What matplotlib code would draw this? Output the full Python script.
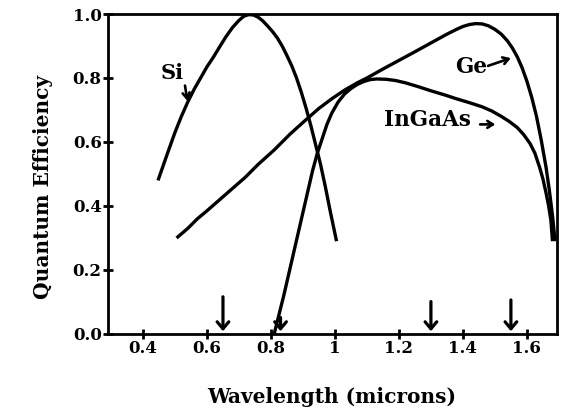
import numpy as np
import matplotlib
matplotlib.use("Agg")
import matplotlib.pyplot as plt

# data
si_x = [0.447, 0.475, 0.50, 0.52, 0.54, 0.56, 0.58, 0.60, 0.62, 0.64, 0.66, 0.68, 0.70, 0.715, 0.73, 0.745, 0.76,
        0.775, 0.79, 0.805, 0.82, 0.835, 0.85, 0.865, 0.88, 0.895, 0.91, 0.925, 0.94, 0.955, 0.97, 0.985, 1.005]
si_y = [0.48, 0.56, 0.63, 0.68, 0.725, 0.765, 0.80, 0.835, 0.865, 0.898, 0.93, 0.958, 0.98, 0.993, 0.998, 0.997, 0.99,
        0.978, 0.962, 0.945, 0.925, 0.90, 0.87, 0.838, 0.80, 0.755, 0.705, 0.65, 0.59, 0.53, 0.46, 0.385, 0.29]

ge_x = [0.505, 0.54, 0.57, 0.60, 0.64, 0.68, 0.72, 0.76, 0.81, 0.86, 0.91, 0.95, 0.99, 1.03, 1.07, 1.10, 1.15,
        1.20, 1.25, 1.31, 1.35, 1.38, 1.40, 1.42, 1.44, 1.46, 1.48, 1.50, 1.52, 1.54, 1.555, 1.57, 1.585, 1.60,
        1.615, 1.63, 1.645, 1.66, 1.67, 1.68, 1.688]
ge_y = [0.30, 0.33, 0.36, 0.385, 0.42, 0.455, 0.49, 0.53, 0.575, 0.625, 0.67, 0.705, 0.735, 0.762, 0.785, 0.80, 0.828,
        0.855, 0.882, 0.915, 0.937, 0.952, 0.961, 0.967, 0.97, 0.969, 0.963, 0.952, 0.937, 0.915, 0.893, 0.866, 0.832, 0.79,
        0.74, 0.68, 0.605, 0.52, 0.45, 0.37, 0.29]

ingaas_x = [0.81, 0.825, 0.84, 0.855, 0.87, 0.885, 0.90, 0.915, 0.93, 0.945, 0.96, 0.975, 0.99, 1.01, 1.03, 1.05,
            1.07, 1.09, 1.11, 1.13, 1.16, 1.19, 1.22, 1.26, 1.30, 1.34, 1.38, 1.42, 1.46, 1.49, 1.52, 1.545, 1.57,
            1.59, 1.61, 1.625, 1.64, 1.65, 1.66, 1.668, 1.675, 1.68]
ingaas_y = [0.0, 0.06, 0.12, 0.185, 0.25, 0.315, 0.38, 0.445, 0.51, 0.565, 0.61, 0.655, 0.69, 0.725, 0.75, 0.767,
            0.78, 0.789, 0.795, 0.797, 0.796, 0.792, 0.785, 0.773, 0.76, 0.748, 0.735, 0.723, 0.71, 0.697, 0.68, 0.664, 0.645,
            0.623, 0.595, 0.565, 0.52, 0.485, 0.44, 0.40, 0.355, 0.29]

# wavelengths marked with arrows on the x axis
marker_waves = [0.65, 1.30, 1.55]
marker_top = [0.125, 0.11, 0.115]
small_marker = 0.83

xticks = [0.4, 0.6, 0.8, 1.0, 1.2, 1.4, 1.6]
xtick_labels = ["0.4", "0.6", "0.8", "1", "1.2", "1.4", "1.6"]
yticks = [0.0, 0.2, 0.4, 0.6, 0.8, 1.0]
ytick_labels = ["0.0", "0.2", "0.4", "0.6", "0.8", "1.0"]

plt.rcParams['font.family'] = 'DejaVu Serif'
plt.rcParams['font.weight'] = 'bold'

fig = plt.figure(figsize=(5.63, 4.13), dpi=100)
ax = fig.add_axes([0.1918, 0.1913, 0.7975, 0.7748])

lw = 2.4
for xs, ys in [(si_x, si_y), (ge_x, ge_y), (ingaas_x, ingaas_y)]:
    ax.plot(xs, ys, color='black', lw=lw, solid_capstyle='butt', solid_joinstyle='round')

arrow_kw = dict(arrowstyle='->,head_length=0.5,head_width=0.42', color='black', lw=2.3)
for xw, yt in zip(marker_waves, marker_top):
    ax.annotate('', xy=(xw, 0.0), xytext=(xw, yt), arrowprops=arrow_kw)
ax.annotate('', xy=(small_marker, 0.0), xytext=(small_marker, 0.06), arrowprops=arrow_kw)

# curve labels
small_arrow = dict(arrowstyle='->,head_length=0.4,head_width=0.25', color='black', lw=1.9)
ax.text(0.49, 0.815, 'Si', fontsize=15, ha='center', va='center', fontweight='bold')
ax.annotate('', xy=(0.54, 0.72), xytext=(0.53, 0.785), arrowprops=small_arrow)
ax.text(1.425, 0.835, 'Ge', fontsize=15.5, ha='center', va='center', fontweight='bold')
ax.annotate('', xy=(1.558, 0.865), xytext=(1.47, 0.835), arrowprops=small_arrow)
ax.text(1.29, 0.67, 'InGaAs', fontsize=15.5, ha='center', va='center', fontweight='bold')
ax.annotate('', xy=(1.51, 0.655), xytext=(1.445, 0.655), arrowprops=small_arrow)

ax.set_xlim(0.2906, 1.694)
ax.set_ylim(0.0, 1.0)
ax.set_xticks(xticks)
ax.set_xticklabels(xtick_labels)
ax.set_yticks(yticks)
ax.set_yticklabels(ytick_labels)
ax.tick_params(direction='inout', length=7, width=2, labelsize=12, pad=1)
for sp in ax.spines.values():
    sp.set_linewidth(2)

ax.set_xlabel('Wavelength (microns)', fontsize=14.5, fontweight='bold')
ax.set_ylabel('Quantum Efficiency', fontsize=14.5, fontweight='bold')
ax.xaxis.set_label_coords(0.499, -0.166)
ax.yaxis.set_label_coords(-0.122, 0.46)

fig.savefig('out.png', dpi=100)
